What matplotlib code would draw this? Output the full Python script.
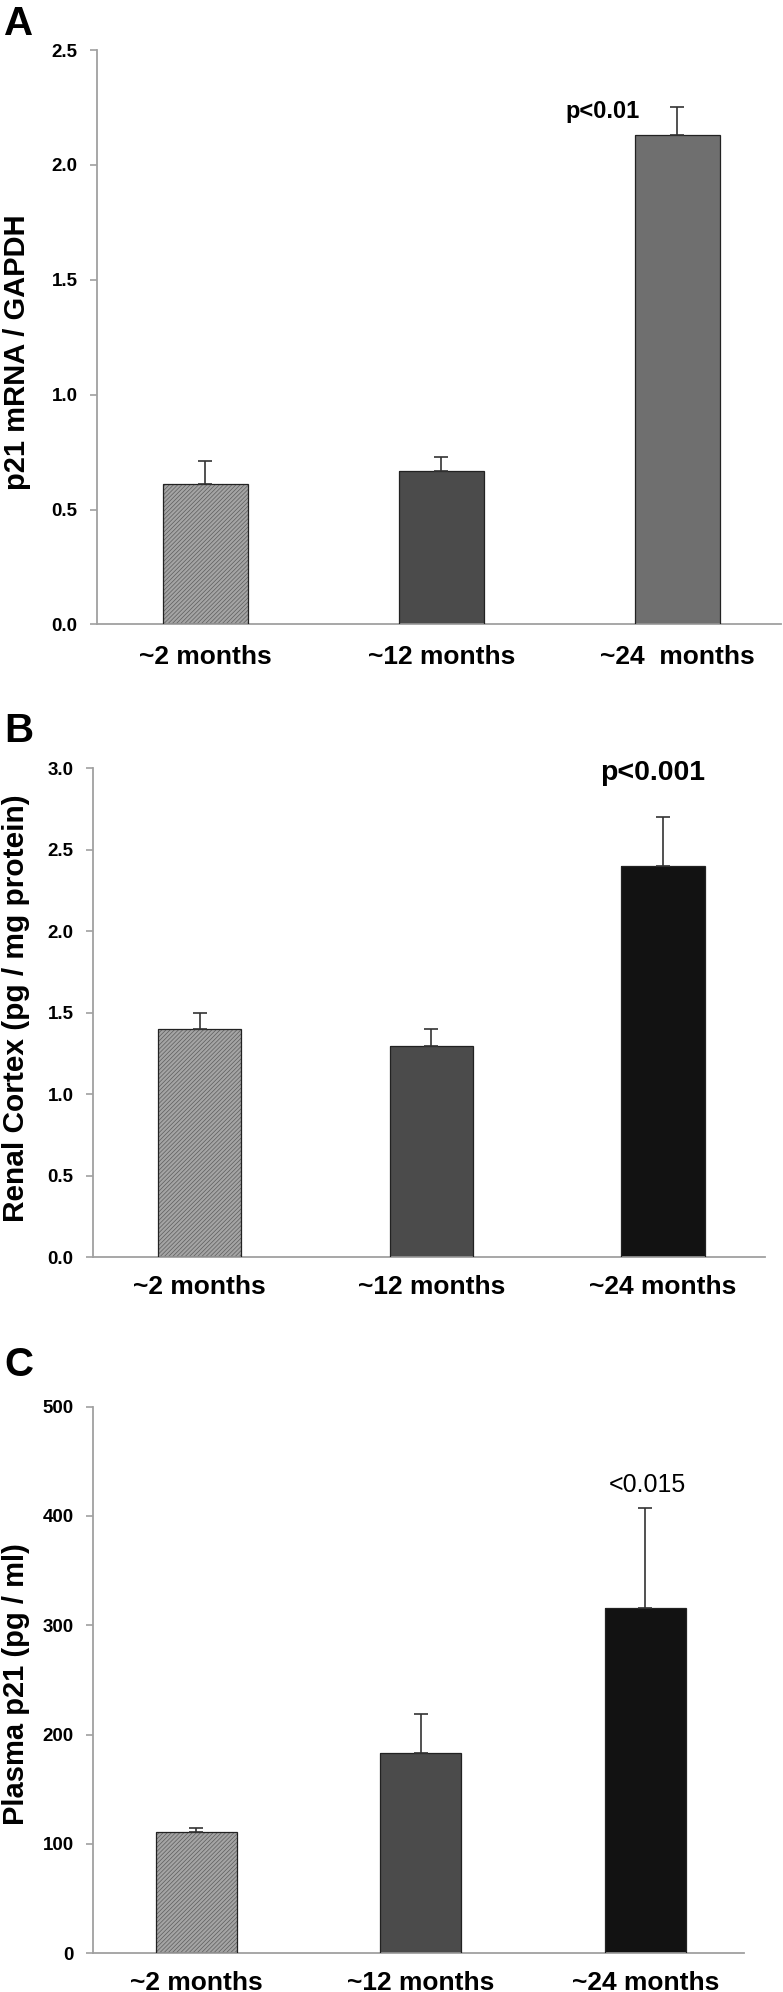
import numpy as np
import matplotlib
matplotlib.use("Agg")
import matplotlib.pyplot as plt

plt.rcParams['font.family'] = ['Liberation Sans', 'DejaVu Sans']
plt.rcParams['hatch.linewidth'] = 0.5

# data
labels_a = ["~2 months", "~12 months", "~24  months"]
labels_bc = ["~2 months", "~12 months", "~24 months"]

p21_mrna = [0.61, 0.67, 2.13]
p21_mrna_err = [0.10, 0.06, 0.12]

cortex = [1.40, 1.30, 2.40]
cortex_err = [0.10, 0.10, 0.30]

plasma = [111, 183, 316]
plasma_err = [4, 36, 91]

# styles
face_a = ['#a8a8a8', '#4b4b4b', '#6f6f6f']
face_bc = ['#a8a8a8', '#4b4b4b', '#121212']
hatches = ['////////', None, None]
AXCOL = '#a0a0a0'

W, H = 783, 1992
fig = plt.figure(figsize=(W / 100, H / 100), dpi=100)


def panel(rect, vals, errs, labels, faces, yticks, fmt, ylabel, lab_size, xpad):
    ax = fig.add_axes(rect)
    x = np.arange(len(vals))
    for i in range(len(vals)):
        if hatches[i]:
            ax.bar(x[i], vals[i], 0.36, color='#a4a4a4', edgecolor='#5c5c5c',
                   hatch=hatches[i], linewidth=0, zorder=2)
        else:
            ax.bar(x[i], vals[i], 0.36, color=faces[i], linewidth=0, zorder=2)
    ax.bar(x, vals, 0.36, fill=False, edgecolor='#222222', linewidth=0.9, zorder=3)
    ax.errorbar(x, vals, yerr=[np.zeros(len(errs)), errs], fmt='none',
                ecolor='#333333', elinewidth=1.2, capsize=5, capthick=1.2, zorder=4)
    ax.set_xlim(-0.46, 2.44)
    ax.set_ylim(yticks[0], yticks[-1])
    ax.set_yticks(yticks)
    ax.set_yticklabels([fmt.format(t) for t in yticks], fontsize=13.5, fontweight='bold')
    ax.set_xticks(x)
    ax.set_xticklabels(labels, fontsize=19, fontweight='bold')
    ax.tick_params(axis='x', length=0, pad=xpad)
    ax.tick_params(axis='y', length=5, width=1.2, color=AXCOL, pad=9)
    for s in ['top', 'right']:
        ax.spines[s].set_visible(False)
    for s in ['left', 'bottom']:
        ax.spines[s].set_color(AXCOL)
        ax.spines[s].set_linewidth(1.3)
    ax.set_ylabel(ylabel, fontsize=lab_size, fontweight='bold', va='center')
    return ax


def rect(left, right, top, bottom):
    return [left / W, 1 - bottom / H, (right - left) / W, (bottom - top) / H]


# Panel A
axA = panel(rect(97, 781, 50, 624.5), p21_mrna, p21_mrna_err, labels_a, face_a,
            np.arange(0, 2.51, 0.5), "{:.1f}", "p21 mRNA / GAPDH", 21, 14.5)
axA.yaxis.set_label_coords(17 / W, 1 - 352 / H, transform=fig.transFigure)
axA.text(1.683, 2.204, "p<0.01", ha='center', va='baseline', fontsize=17, fontweight='bold')

# Panel B
axB = panel(rect(93, 765, 768.4, 1257.4), cortex, cortex_err, labels_bc, face_bc,
            np.arange(0, 3.01, 0.5), "{:.1f}", "Renal Cortex (pg / mg protein)", 21.5, 13)
axB.yaxis.set_label_coords(16 / W, 1 - 1008 / H, transform=fig.transFigure)
axB.text(1.955, 2.929, "p<0.001", ha='center', va='baseline', fontsize=20.5, fontweight='bold')

# Panel C
axC = panel(rect(93, 744, 1406.5, 1953.3), plasma, plasma_err, labels_bc, face_bc,
            np.arange(0, 501, 100), "{:.0f}", "Plasma p21 (pg / ml)", 21, 13)
axC.yaxis.set_label_coords(16 / W, 1 - 1684 / H, transform=fig.transFigure)
axC.text(2.011, 422, "<0.015", ha='center', va='baseline', fontsize=18)

# panel letters
for letter, top in [("A", 5), ("B", 712), ("C", 1346)]:
    fig.text(4 / W, 1 - top / H, letter, ha='left', va='top', fontsize=29, fontweight='bold')

fig.savefig("out.png", dpi=100)
